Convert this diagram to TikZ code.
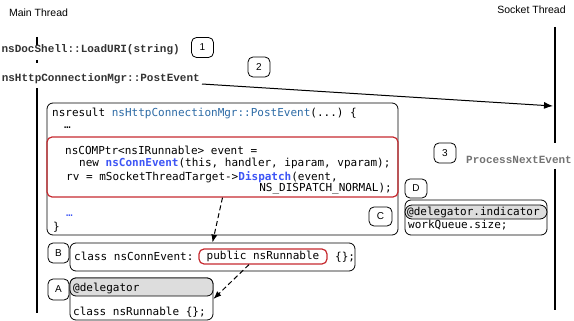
\documentclass[tikz,border=0pt]{standalone}
\usepackage{fontspec}
\setsansfont{Liberation Sans}
\setmonofont{DejaVu Sans Mono}
\newfontfamily\callfont{Liberation Mono}
\usetikzlibrary{arrows.meta}

\definecolor{fnblue}{HTML}{2C6AA5}
\definecolor{callblue}{HTML}{3D55F5}
\definecolor{hotred}{HTML}{C62A2F}
\definecolor{hdrgray}{HTML}{DDDDDD}

\begin{document}
\begin{tikzpicture}[x=1pt,y=-1pt,
    thread/.style={line width=2pt},
    lbl/.style={font=\sffamily\fontsize{10.5}{12}\selectfont},
    call/.style={font=\callfont\bfseries\fontsize{11}{13}\selectfont, text=black!80, inner sep=2pt},
    tag/.style={draw, line width=0.8pt, rounded corners=5pt, inner sep=0pt,
        font=\sffamily\fontsize{10}{12}\selectfont, minimum width=22pt, minimum height=20pt},
    codebox/.style={draw, line width=0.8pt, rounded corners=6pt, inner sep=0pt},
    hotbox/.style={draw=hotred, line width=1.2pt, rounded corners=5pt, inner sep=0pt},
    hdrbox/.style={draw, fill=hdrgray, line width=0.8pt, rounded corners=6pt, inner sep=0pt},
    code/.style={font=\ttfamily\fontsize{11}{13}\selectfont, inner sep=0pt, anchor=base west},
    msg/.style={line width=1pt, -{Latex[length=9pt,width=7pt]}},
    flow/.style={line width=1pt, dash pattern=on 5pt off 3pt, -{Latex[length=8pt,width=6pt]}}]

    \useasboundingbox (0,0) rectangle (574,321);

    % lifelines
    \node[lbl] (mainlbl) at (38.5,13) {Main Thread};
    \node[lbl] (socketlbl) at (531.5,10) {Socket Thread};
    \draw[thread] (37,37) -- (37,45);
    \draw[thread] (37,60) -- (37,63);
    \draw[thread] (37,88) -- (37,313);
    \draw[thread] (555,27) -- (555,143);
    \draw[thread] (555,169) -- (555,310);

    % calls
    \node[call, anchor=east] (loaduri) at (182,50) {nsDocShell::LoadURI(string)};
    \node[call, anchor=east] (post) at (202,79) {nsHttpConnectionMgr::PostEvent};
    \node[call, anchor=west, text=black!55] (nextev) at (464,160) {ProcessNextEvent};
    \node[tag] (t1) at (202.5,47.5) {1};
    \node[tag] (t2) at (259,67) {2};
    \node[tag] (t3) at (445,153) {3};
    \coordinate (sockin) at (553,106);
    \draw[msg] ([yshift=-5pt]post.east) -- (sockin);

    % PostEvent body
    \node[codebox, minimum width=351pt, minimum height=132pt] (postbox) at (222.5,169) {};
    \node[hotbox, minimum width=351pt, minimum height=60pt] (dispatch) at (222.5,167) {};
    \node[code] (l1) at (52,117) {nsresult \textcolor{fnblue}{nsHttpConnectionMgr::PostEvent}(...) \{};
    \node[code] (l2) at (64,129) {…};
    \node[code] (l3) at (65,154) {nsCOMPtr<nsIRunnable> event =};
    \node[code] (l4) at (79,167) {new \textcolor{callblue}{\bfseries nsConnEvent}(this, handler, iparam, vparam);};
    \node[code] (l5) at (66,180) {rv = mSocketThreadTarget->\textcolor{callblue}{\bfseries Dispatch}(event,};
    \node[code, anchor=base east] (l6) at (392,192) {NS\_DISPATCH\_NORMAL);};
    \node[code] (l7) at (66,216) {\textcolor{callblue}{…}};
    \node[code] (l8) at (53,230) {\}};
    \node[tag, minimum width=23pt, minimum height=19pt] (tc) at (380.5,216.5) {C};

    % nsConnEvent
    \node[tag, minimum width=21pt] (tb) at (58.5,253) {B};
    \node[codebox, minimum width=285pt, minimum height=28pt] (connbox) at (212.5,257) {};
    \node[code] (conn) at (74,260.5) {class nsConnEvent:};
    \node[hotbox, minimum width=128pt, minimum height=15pt,
        font=\ttfamily\fontsize{11}{13}\selectfont] (base) at (263,256.5) {\strut public nsRunnable};
    \node[code] (connend) at (335,260.5) {\{\};};
    \draw[flow] (dispatch.south) -- (connbox.north);

    % nsRunnable
    \node[tag, minimum width=21pt, minimum height=21pt] (ta) at (58.5,289.5) {A};
    \node[codebox, minimum width=143pt, minimum height=42pt] (runbox) at (141.5,299) {};
    \node[hdrbox, minimum width=143pt, minimum height=18pt] (runhdr) at (141.5,287) {};
    \node[code] (deleg) at (73,291) {@delegator};
    \node[code] (runcls) at (73,315.5) {class nsRunnable \{\};};
    \draw[flow] ([xshift=-14pt]base.south) -- (runbox.east);

    % work queue
    \node[tag, minimum width=22pt, minimum height=19pt] (td) at (416,188.5) {D};
    \node[codebox, minimum width=142pt, minimum height=35pt] (queuebox) at (476,217.5) {};
    \node[hdrbox, minimum width=142pt, minimum height=14pt, rounded corners=7pt] (queuehdr) at (476,212) {};
    \node[code] (indic) at (407,215.5) {@delegator.indicator};
    \node[code] (qsize) at (408,228) {workQueue.size;};
\end{tikzpicture}
\end{document}
